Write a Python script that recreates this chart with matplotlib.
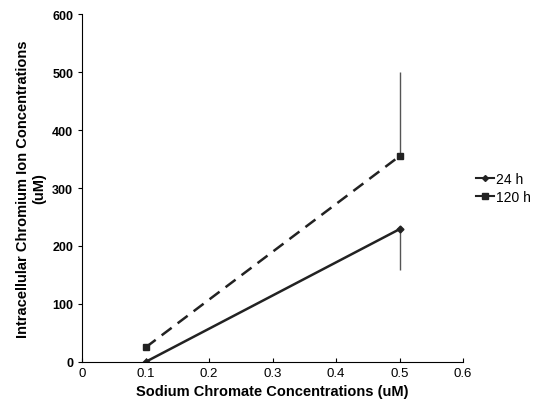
import matplotlib.pyplot as plt
from matplotlib.lines import Line2D

plt.rcParams['font.family'] = ['Liberation Sans', 'DejaVu Sans']

# Datos
x = [0.1, 0.5]
h24 = [0, 229]
h120 = [25, 355]
err24 = [[0, 70], [0, 0]]
err120 = [[0, 0], [0, 145]]

fig = plt.figure(figsize=(5.48, 4.10), dpi=100)
ax = fig.add_axes([0.15, 0.115, 0.695, 0.848])

ax.errorbar(x, h24, yerr=err24, color='#222222', lw=1.8, marker='D', ms=3.5,
            ecolor='#555555', elinewidth=1, capsize=0)
ax.errorbar(x, h120, yerr=err120, color='#222222', lw=1.8, ls=(0, (5, 3)), marker='s', ms=5,
            ecolor='#555555', elinewidth=1, capsize=0)

ax.set_xlim(0, 0.6)
ax.set_ylim(0, 600)
ax.set_xticks([0, 0.1, 0.2, 0.3, 0.4, 0.5, 0.6])
ax.set_xticklabels(['0', '0.1', '0.2', '0.3', '0.4', '0.5', '0.6'])
ax.set_yticks(range(0, 601, 100))
ax.spines['top'].set_visible(False)
ax.spines['right'].set_visible(False)
ax.tick_params(axis='x', direction='in', length=3, labelsize=9.5)
ax.tick_params(axis='y', direction='out', length=3, labelsize=9)
for lbl in ax.get_yticklabels():
    lbl.set_fontweight('bold')

ax.set_xlabel('Sodium Chromate Concentrations (uM)', fontsize=10.5, fontweight='bold')
ax.set_ylabel('Intracellular Chromium Ion Concentrations\n(uM)', fontsize=10.5, fontweight='bold')

# Leyenda con lineas solidas
handles = [Line2D([], [], color='#222222', lw=1.5, marker='D', ms=3),
           Line2D([], [], color='#222222', lw=1.5, marker='s', ms=4.5)]
ax.legend(handles, ['24 h', '120 h'], loc='center left', bbox_to_anchor=(1.0, 0.5),
          frameon=False, fontsize=10, handlelength=1.3, handletextpad=0.2, labelspacing=0.3)

plt.savefig('out.png', dpi=100)
